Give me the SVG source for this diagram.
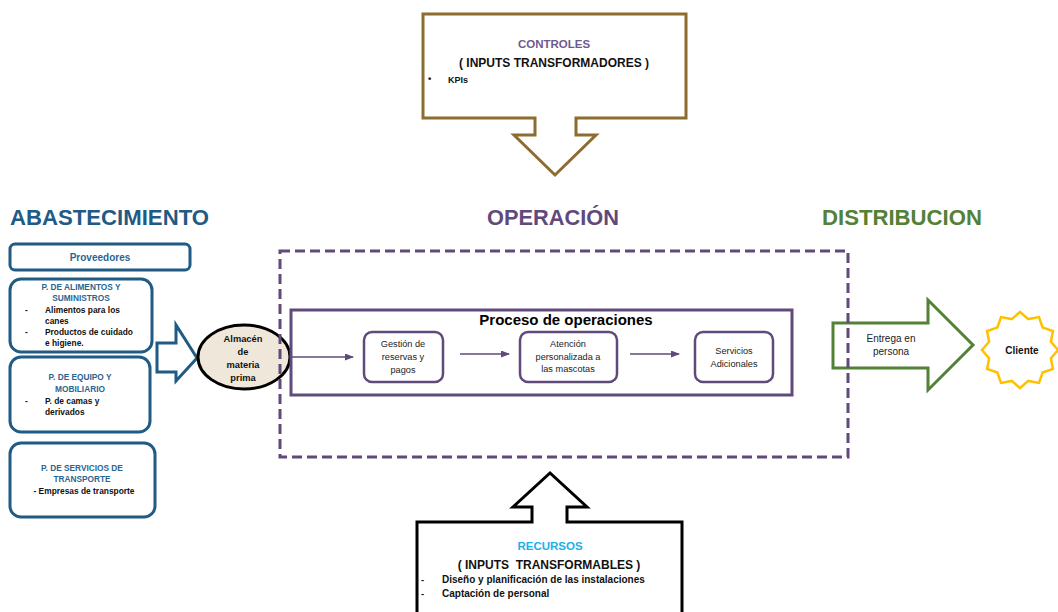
<svg xmlns="http://www.w3.org/2000/svg" width="1058" height="612" viewBox="0 0 1058 612">
<defs>
<style>
text{font-family:"Liberation Sans",Arial,sans-serif;}
.title{font-size:22px;font-weight:bold;}
.bluebox{fill:#fff;stroke:#1f5b84;stroke-width:3;}
.hdr{font-size:8.3px;font-weight:bold;fill:#2a6590;text-anchor:middle;}
.item{font-size:8.4px;font-weight:bold;fill:#111;}
.pbox{fill:#fff;stroke:#604a7b;stroke-width:2.5;}
.ptxt{font-size:9.2px;fill:#222;text-anchor:middle;}
.conn{stroke:#604a7b;stroke-width:1.3;fill:none;marker-end:url(#ah);}
.big{font-size:12px;font-weight:bold;fill:#111;text-anchor:middle;}
.bul{font-size:9.5px;font-weight:bold;fill:#111;}
</style>
<marker id="ah" markerWidth="9" markerHeight="7" refX="8" refY="3.5" orient="auto" markerUnits="userSpaceOnUse">
<path d="M0,0 L9,3.5 L0,7 Z" fill="#604a7b"/>
</marker>
</defs>
<rect width="1058" height="612" fill="#fff"/>

<g id="titles">
<text class="title" x="10" y="225" fill="#1f5b84" textLength="199" lengthAdjust="spacingAndGlyphs">ABASTECIMIENTO</text>
<text class="title" x="487" y="225" fill="#604a7b" textLength="132" lengthAdjust="spacingAndGlyphs">OPERACIÓN</text>
<text class="title" x="822" y="225" fill="#538135" textLength="160" lengthAdjust="spacingAndGlyphs">DISTRIBUCION</text>
</g>

<g id="controles">
<path d="M423,14 H686 V118 H576 V135 H596 L555,175 L514,135 H535 V118 H423 Z" fill="#fff" stroke="#8c6c31" stroke-width="3"/>
<text x="554" y="48" font-size="11.5" font-weight="bold" fill="#6f5a8e" text-anchor="middle">CONTROLES</text>
<text class="big" x="554" y="67">( INPUTS TRANSFORMADORES )</text>
<text class="bul" x="428" y="82">•</text>
<text x="448" y="83" font-size="9" font-weight="bold" fill="#111">KPIs</text>
</g>

<g id="recursos">
<path d="M417,616 V522 H532 V507 H513 L550,473 L587,507 H567 V522 H682 V616" fill="#fff" stroke="#000" stroke-width="3"/>
<text x="550" y="550" font-size="11.5" font-weight="bold" fill="#1ab0e8" text-anchor="middle">RECURSOS</text>
<text class="big" x="549" y="569" xml:space="preserve">( INPUTS  TRANSFORMABLES )</text>
<text class="bul" x="421" y="583">-</text>
<text x="442" y="583" font-size="10" font-weight="bold" fill="#111">Diseño y planificación de las instalaciones</text>
<text class="bul" x="421" y="597">-</text>
<text x="442" y="597" font-size="10" font-weight="bold" fill="#111">Captación de personal</text>
</g>

<g id="proveedores">
<rect class="bluebox" x="10" y="244" width="180" height="26" rx="5"/>
<text x="100" y="261" font-size="10" font-weight="bold" fill="#2a6590" text-anchor="middle">Proveedores</text>
</g>

<g id="p-alimentos">
<rect class="bluebox" x="10" y="279" width="142" height="73" rx="11"/>
<text class="hdr" x="81" y="290">P. DE ALIMENTOS Y</text>
<text class="hdr" x="81" y="301">SUMINISTROS</text>
<text class="item" x="25" y="313">-</text>
<text class="item" x="45" y="313">Alimentos para los</text>
<text class="item" x="45" y="324">canes</text>
<text class="item" x="25" y="335">-</text>
<text class="item" x="45" y="335">Productos de cuidado</text>
<text class="item" x="45" y="346">e higiene.</text>
</g>

<g id="p-equipo">
<rect class="bluebox" x="10" y="357" width="140" height="75" rx="11"/>
<text class="hdr" x="80" y="380">P. DE EQUIPO Y</text>
<text class="hdr" x="80" y="392">MOBILIARIO</text>
<text class="item" x="25" y="404">-</text>
<text class="item" x="45" y="404">P. de camas y</text>
<text class="item" x="45" y="415">derivados</text>
</g>

<g id="p-servicios">
<rect class="bluebox" x="10" y="443" width="145" height="74" rx="11"/>
<text class="hdr" x="82" y="471">P. DE SERVICIOS DE</text>
<text class="hdr" x="82" y="482">TRANSPORTE</text>
<text class="item" x="84" y="494" text-anchor="middle">- Empresas de transporte</text>
</g>

<g id="flecha-abastecimiento">
<path d="M157,343 H176 V325 L197,358 L176,381 V372 H157 Z" fill="#fff" stroke="#1f5b84" stroke-width="3" stroke-linejoin="miter"/>
</g>

<g id="almacen">
<ellipse cx="244" cy="357" rx="46" ry="32" fill="#eee7da" stroke="#000" stroke-width="3"/>
<text x="243" y="342" font-size="9.3" font-weight="bold" fill="#111" text-anchor="middle">Almacén</text>
<text x="243" y="355" font-size="9.3" font-weight="bold" fill="#111" text-anchor="middle">de</text>
<text x="243" y="368" font-size="9.3" font-weight="bold" fill="#111" text-anchor="middle">materia</text>
<text x="243" y="381" font-size="9.3" font-weight="bold" fill="#111" text-anchor="middle">prima</text>
</g>

<g id="proceso">
<rect x="291" y="310" width="501" height="85" fill="none" stroke="#604a7b" stroke-width="3"/>
<text x="566" y="325" font-size="15" font-weight="bold" fill="#000" text-anchor="middle">Proceso de operaciones</text>
</g>

<g id="gestion">
<rect class="pbox" x="364" y="332" width="79" height="50" rx="8"/>
<text class="ptxt" x="403" y="347">Gestión de</text>
<text class="ptxt" x="403" y="360">reservas y</text>
<text class="ptxt" x="403" y="373">pagos</text>
</g>

<g id="atencion">
<rect class="pbox" x="520" y="332" width="97" height="50" rx="8"/>
<text class="ptxt" x="568" y="347">Atención</text>
<text class="ptxt" x="568" y="360">personalizada a</text>
<text class="ptxt" x="568" y="372">las mascotas</text>
</g>

<g id="servicios">
<rect class="pbox" x="695" y="332" width="78" height="50" rx="8"/>
<text class="ptxt" x="734" y="354">Servicios</text>
<text class="ptxt" x="734" y="367">Adicionales</text>
</g>

<g id="connectors">
<line class="conn" x1="290" y1="357" x2="353" y2="357"/>
<line class="conn" x1="460" y1="354" x2="509" y2="354"/>
<line class="conn" x1="630" y1="354" x2="679" y2="354"/>
</g>

<g id="entrega">
<path d="M833,323 H928 V300 L973,345 L928,390 V368 H833 Z" fill="#fff" stroke="#538135" stroke-width="3"/>
<text x="891" y="342" font-size="10" fill="#222" text-anchor="middle">Entrega en</text>
<text x="891" y="355" font-size="10" fill="#222" text-anchor="middle">persona</text>
</g>

<g id="cliente">
<polygon points="1020,312 1028.3,319.1 1039,317.1 1042.6,327.4 1052.9,331 1050.9,341.7 1058,350 1050.9,358.3 1052.9,369 1042.6,372.6 1039,382.9 1028.3,380.9 1020,388 1011.7,380.9 1001,382.9 997.4,372.6 987.1,369 989.1,358.3 982,350 989.1,341.7 987.1,331 997.4,327.4 1001,317.1 1011.7,319.1" fill="#fff" stroke="#ffc000" stroke-width="2.5" stroke-linejoin="miter"/>
<text x="1022" y="354" font-size="10" font-weight="bold" fill="#111" text-anchor="middle">Cliente</text>
</g>

<g id="operacion-frame">
<rect x="280" y="251" width="568" height="206" fill="none" stroke="#604a7b" stroke-width="3" stroke-dasharray="10,5"/>
</g>
</svg>
